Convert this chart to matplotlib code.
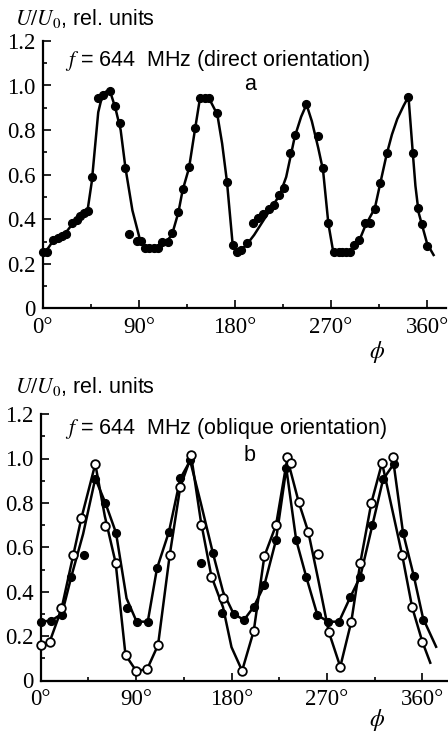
import matplotlib
matplotlib.use("Agg")
import matplotlib.pyplot as plt
from matplotlib.ticker import MultipleLocator

plt.rcParams["mathtext.fontset"] = "stix"

# panel a: measured points and the drawn curve
top_phi = [0, 4, 10, 14, 18, 22, 27, 32, 35, 39, 42, 46, 52, 56.5, 63, 68, 72, 77.5, 81, 88,
           92.5, 96, 100, 104, 108, 112, 117.5, 121.5, 127, 131, 137, 142.5, 147, 152, 156,
           163.5, 172.5, 178, 181.5, 186, 191, 197, 202, 206.5, 212, 217, 221.5, 226, 231.5,
           236, 247, 258, 262.5, 267.5, 273, 277, 280, 284, 287.5, 291.5, 296.5, 302, 306.5,
           311, 316, 322, 342.5, 346.5, 351, 355, 360]
top_u = [0.255, 0.255, 0.307, 0.315, 0.325, 0.334, 0.382, 0.397, 0.415, 0.43, 0.437, 0.591,
         0.945, 0.957, 0.975, 0.908, 0.83, 0.631, 0.334, 0.303, 0.303, 0.27, 0.27, 0.27, 0.27,
         0.30, 0.30, 0.337, 0.434, 0.535, 0.633, 0.811, 0.943, 0.943, 0.943, 0.875, 0.569,
         0.285, 0.255, 0.262, 0.292, 0.385, 0.404, 0.422, 0.445, 0.464, 0.509, 0.539, 0.699,
         0.778, 0.917, 0.774, 0.631, 0.385, 0.255, 0.255, 0.255, 0.255, 0.255, 0.285, 0.307,
         0.385, 0.385, 0.445, 0.564, 0.696, 0.95, 0.699, 0.449, 0.379, 0.28]
top_line_phi = [0, 5, 10, 20, 28, 35, 42, 46, 52, 56, 60, 63, 68, 73, 77.5, 84, 91, 97, 108,
                114, 121, 127, 131, 137, 142.5, 147, 152, 156, 163.5, 168, 172.5, 178, 181.5,
                190, 198, 206, 214, 222, 228, 236, 242, 247, 252, 258, 262.5, 267.5, 272, 289,
                296, 302, 311, 316, 322, 327, 332, 338, 342.5, 346.5, 349, 352, 356, 360, 366]
top_line_u = [0.25, 0.27, 0.305, 0.33, 0.38, 0.41, 0.44, 0.57, 0.88, 0.96, 0.975, 0.975, 0.90,
              0.80, 0.63, 0.44, 0.31, 0.275, 0.27, 0.29, 0.33, 0.43, 0.53, 0.63, 0.80, 0.935,
              0.945, 0.94, 0.87, 0.74, 0.57, 0.28, 0.255, 0.28, 0.33, 0.39, 0.45, 0.51, 0.59,
              0.77, 0.86, 0.915, 0.84, 0.72, 0.62, 0.38, 0.255, 0.255, 0.30, 0.37, 0.45, 0.56,
              0.69, 0.78, 0.85, 0.91, 0.95, 0.70, 0.55, 0.43, 0.36, 0.29, 0.24]

# panel b: filled circles
bf_phi = [0, 10, 20, 29, 41, 51.5, 61, 71, 81, 90.5, 101, 109.7, 121, 131.7, 141, 151.5,
          162.5, 171, 182, 191.8, 201, 211, 222, 231.7, 241, 250.6, 261, 271, 281.4, 292,
          301.5, 312.9, 323, 333, 341.8, 352, 360.7]
bf_u = [0.265, 0.27, 0.295, 0.468, 0.565, 0.906, 0.80, 0.666, 0.325, 0.265, 0.265, 0.505,
        0.67, 0.91, 0.993, 0.53, 0.573, 0.305, 0.30, 0.273, 0.332, 0.43, 0.633, 0.956, 0.633,
        0.465, 0.295, 0.265, 0.265, 0.375, 0.468, 0.70, 0.906, 0.975, 0.666, 0.47, 0.273]
bf_line_phi = [0, 10, 20, 29, 40, 51.5, 61, 71, 81, 90.5, 101, 109.7, 121, 131.7, 141, 151,
               162.5, 172, 182, 191.8, 201, 211, 222, 231.7, 241, 250.6, 261, 271, 281.4, 292,
               301.5, 312.9, 323, 333, 341.8, 352, 360.7, 373]
bf_line_u = [0.265, 0.27, 0.30, 0.47, 0.66, 0.91, 0.80, 0.666, 0.37, 0.265, 0.265, 0.505, 0.67,
             0.91, 0.99, 0.80, 0.573, 0.40, 0.30, 0.273, 0.332, 0.43, 0.633, 0.956, 0.633,
             0.465, 0.295, 0.265, 0.265, 0.375, 0.468, 0.70, 0.906, 0.975, 0.666, 0.47, 0.28,
             0.152]

# panel b: open circles
bo_phi = [0, 8.5, 19.5, 30.5, 38.3, 51.5, 60.5, 70.7, 80, 90, 100.3, 110.7, 121.7, 131.7,
          142, 151, 161, 172, 190, 201, 211, 222, 232.6, 235.8, 243.6, 252.4, 261.8, 271.7,
          282.6, 293, 301.5, 311.9, 322, 332.4, 341, 350.4, 360]
bo_u = [0.16, 0.175, 0.325, 0.565, 0.73, 0.975, 0.696, 0.528, 0.115, 0.044, 0.05, 0.16, 0.565,
        0.873, 1.015, 0.70, 0.468, 0.37, 0.044, 0.224, 0.56, 0.70, 1.008, 0.98, 0.805, 0.67,
        0.57, 0.22, 0.062, 0.265, 0.53, 0.80, 0.98, 1.008, 0.565, 0.33, 0.175]
bo_line_phi = [0, 8.5, 19.5, 30.5, 38.3, 51.5, 60.5, 70.7, 80, 90, 100.3, 110.7, 121.7, 131.7,
               142, 151, 161, 172, 180, 190, 201, 211, 222, 232.6, 243.6, 252.4, 262, 271.7,
               282.6, 293, 301.5, 311.9, 322, 341, 350.4, 360, 367.5]
bo_line_u = [0.16, 0.175, 0.32, 0.56, 0.73, 0.975, 0.74, 0.53, 0.115, 0.044, 0.05, 0.16, 0.565,
             0.873, 1.01, 0.72, 0.47, 0.33, 0.15, 0.044, 0.224, 0.56, 0.70, 1.0, 0.80, 0.67,
             0.45, 0.22, 0.062, 0.265, 0.53, 0.80, 0.98, 0.565, 0.33, 0.175, 0.08]

x_ticks = [0, 90, 180, 270, 360]
x_labels = ["0°", "90°", "180°", "270°", "360°"]
y_ticks = [0, 0.2, 0.4, 0.6, 0.8, 1.0, 1.2]
y_labels = ["0", "0.2", "0.4", "0.6", "0.8", "1.0", "1.2"]

W, H = 448, 736
fig = plt.figure(figsize=(W / 100, H / 100), dpi=100)


def px_axes(left, top, right, bottom):
    return fig.add_axes([left / W, 1 - bottom / H, (right - left) / W, (bottom - top) / H])


def style(ax, xmax):
    ax.set_xlim(0, xmax)
    ax.set_ylim(0, 1.2)
    for s in ["top", "right"]:
        ax.spines[s].set_visible(False)
    for s in ["left", "bottom"]:
        ax.spines[s].set_linewidth(1.6)
    ax.set_xticks(x_ticks)
    ax.set_xticklabels(x_labels)
    ax.set_yticks(y_ticks)
    ax.set_yticklabels(y_labels)
    ax.xaxis.set_minor_locator(MultipleLocator(45))
    ax.yaxis.set_minor_locator(MultipleLocator(0.1))
    ax.tick_params(which="both", direction="in", width=1.2)
    ax.tick_params(which="major", length=6)
    ax.tick_params(which="minor", length=3)
    ax.tick_params(axis="x", pad=6)
    ax.tick_params(axis="y", pad=5)
    for lab in ax.get_xticklabels() + ax.get_yticklabels():
        lab.set_fontfamily("Liberation Serif")
        lab.set_fontsize(16.5)


ax1 = px_axes(42.7, 40.9, 446.4, 308.5)
style(ax1, 378)
ax1.plot(top_line_phi, top_line_u, color="black", lw=1.8, zorder=2)
ax1.plot(top_phi, top_u, "o", color="black", ms=5.6, zorder=3, clip_on=False)

ax2 = px_axes(40.7, 414.1, 446.7, 680.5)
style(ax2, 383)
ax2.plot(bf_line_phi, bf_line_u, color="black", lw=1.8, zorder=2)
ax2.plot(bo_line_phi, bo_line_u, color="black", lw=1.8, zorder=2)
ax2.plot(bf_phi, bf_u, "o", color="black", ms=5.6, zorder=3, clip_on=False)
ax2.plot(bo_phi, bo_u, "o", mfc="white", mec="black", mew=1.3, ms=6.2, zorder=4, clip_on=False)

sans = "Liberation Sans"
for ytop, title, letter, ly, phiy in [(25, "direct orientation", "a", 85, 352),
                                      (393, "oblique orientation", "b", 455, 720)]:
    fig.text(15 / W, 1 - ytop / H, r"$U/U_0$, rel. units", fontsize=15.5, family=sans,
             va="baseline")
    fig.text(65 / W, 1 - (ytop + 41) / H, r"$f$ = 644  MHz (" + title + ")", fontsize=15.5,
             family=sans, va="baseline")
    fig.text(250 / W, 1 - ly / H, letter, fontsize=15.5, family=sans, ha="center", va="center")
    fig.text(377 / W, 1 - phiy / H, r"$\phi$", fontsize=17, ha="center", va="center")

fig.savefig("out.png", dpi=100)
